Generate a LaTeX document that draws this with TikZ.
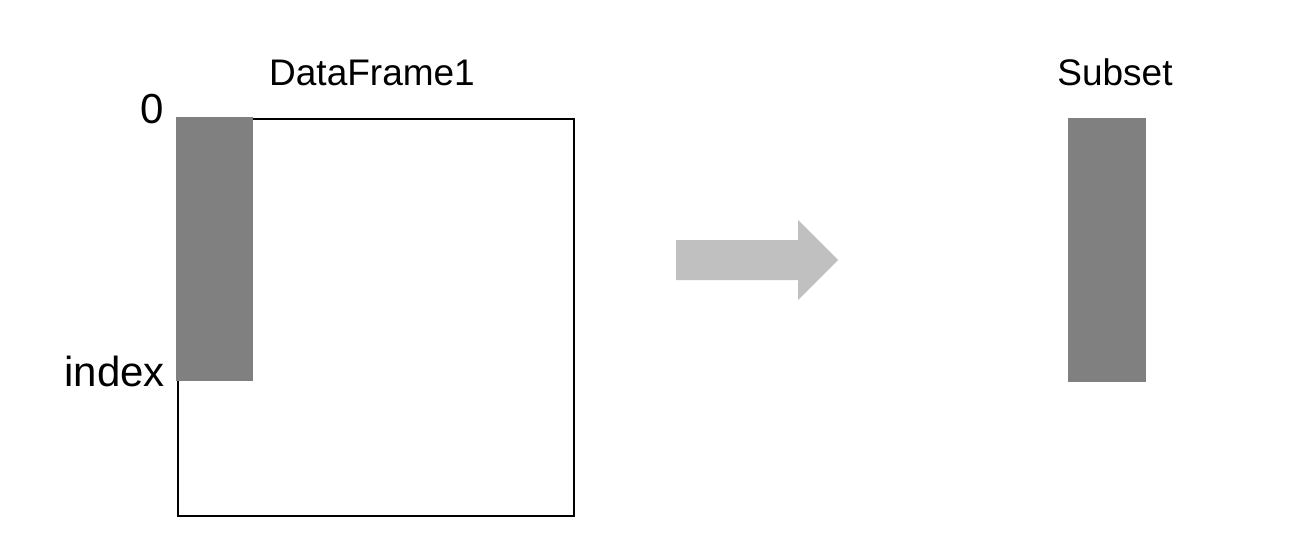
\documentclass[tikz,border=0pt]{standalone}
\usepackage{fontspec}
\setmainfont{Liberation Sans}
\definecolor{colgray}{HTML}{808080}
\definecolor{arrgray}{HTML}{C0C0C0}
\begin{document}
\begin{tikzpicture}[x=1pt,y=-1pt,
  lbl/.style={font=\fontsize{37}{44}\selectfont, inner sep=0pt, text=black},
  biglbl/.style={font=\fontsize{42}{50}\selectfont, inner sep=0pt, text=black},
  frame/.style={draw=black, line width=2pt, inner sep=0pt, anchor=north west},
  colbox/.style={fill=colgray, draw=none, inner sep=0pt, anchor=north west}]
\useasboundingbox (0,0) rectangle (1308,556);
\fill[white] (0,0) rectangle (1308,556);
% DataFrame box
\node[frame, minimum width=396pt, minimum height=397pt] (df) at (177,118) {};
\node[colbox, minimum width=77pt, minimum height=264pt] (col) at (176,117) {};
% Subset column
\node[colbox, minimum width=78pt, minimum height=264pt] (sub) at (1068,118) {};
% labels
\node[lbl, anchor=base] (dftitle) at (372,86) {DataFrame1};
\node[lbl, anchor=base] (subtitle) at (1115,86) {Subset};
\node[biglbl, anchor=base] (zero) at (152,124) {0};
\node[biglbl, anchor=base east] (idx) at (165,386) {index};
% arrow
\fill[arrgray] (676,240) -- (798,240) -- (798,220) -- (838,260) -- (798,300) -- (798,280) -- (676,280) -- cycle;
\end{tikzpicture}
\end{document}
